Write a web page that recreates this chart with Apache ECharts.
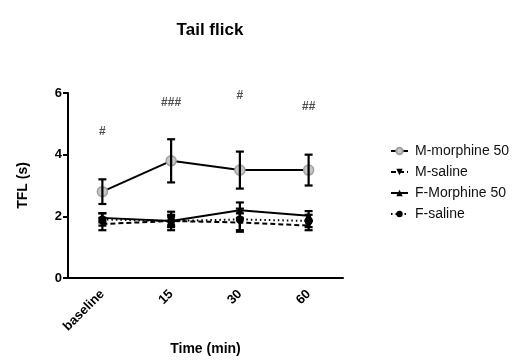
<!DOCTYPE html>
<html>
<head>
<meta charset="utf-8">
<script src="https://cdn.jsdelivr.net/npm/echarts@6/dist/echarts.min.js"></script>
<style>
  html, body { margin: 0; padding: 0; background: #fff; }
  #chart { width: 517px; height: 361px; }
</style>
</head>
<body>
<div id="chart"></div>
<script>
// time points
const timePoints = ["baseline", "15", "30", "60"];

// group means (s) and error (SEM)
const mMorphine = [2.8, 3.8, 3.5, 3.5];
const mMorphineErr = [0.4, 0.7, 0.6, 0.5];
const mSaline = [1.75, 1.85, 1.8, 1.7];
const mSalineErr = [0.2, 0.2, 0.3, 0.15];
const fMorphine = [1.95, 1.85, 2.2, 2.02];
const fMorphineErr = [0.15, 0.3, 0.25, 0.15];
const fSaline = [1.9, 1.85, 1.9, 1.85];
const fSalineErr = [0.2, 0.15, 0.35, 0.2];

// significance marks above each time point
const sigMarks = ["#", "###", "#", "##"];
const sigHeights = [4.75, 5.68, 5.9, 5.56];

const FONT = "Liberation Sans, Arial, sans-serif";
const ch = echarts.init(document.getElementById("chart"));

function errorBars(name, means, errs) {
  return {
    name,
    type: "custom",
    data: means.map((m, i) => [i, m - errs[i], m + errs[i]]),
    encode: { x: 0, y: [1, 2] },
    z: 5,
    renderItem: (params, api) => {
      const lo = api.coord([api.value(0), api.value(1)]);
      const hi = api.coord([api.value(0), api.value(2)]);
      const cap = 4;
      const style = { stroke: "#000", lineWidth: 2.2 };
      return {
        type: "group",
        children: [
          { type: "line", shape: { x1: lo[0], y1: lo[1], x2: hi[0], y2: hi[1] }, style },
          { type: "line", shape: { x1: lo[0] - cap, y1: lo[1], x2: lo[0] + cap, y2: lo[1] }, style },
          { type: "line", shape: { x1: hi[0] - cap, y1: hi[1], x2: hi[0] + cap, y2: hi[1] }, style },
        ],
      };
    },
  };
}

ch.setOption({
  backgroundColor: "#fff",
  animation: false,
  title: {
    text: "Tail flick",
    left: 205,
    top: 17,
    textAlign: "center",
    textStyle: { fontFamily: FONT, fontSize: 17, fontWeight: "bold", color: "#000" },
  },
  legend: {
    orient: "vertical",
    left: 385,
    top: 139,
    itemGap: 7,
    itemWidth: 17,
    itemHeight: 8,
    textStyle: { fontFamily: FONT, fontSize: 14, color: "#111", padding: [0, 0, 0, 2] },
    data: ["M-morphine 50", "M-saline", "F-Morphine 50", "F-saline"],
  },
  grid: { left: 68, right: 174, top: 93, bottom: 82 },
  xAxis: {
    type: "category",
    data: timePoints,
    boundaryGap: true,
    name: "Time (min)",
    nameLocation: "middle",
    nameGap: 64,
    nameTextStyle: { fontFamily: FONT, fontSize: 14, fontWeight: "bold", color: "#000" },
    axisLine: { lineStyle: { color: "#000", width: 2 } },
    axisTick: { alignWithLabel: true, length: 5, lineStyle: { color: "#000", width: 2 } },
    axisLabel: {
      rotate: 45,
      margin: 14,
      fontFamily: FONT,
      fontSize: 13,
      fontWeight: "bold",
      color: "#000",
    },
  },
  yAxis: {
    type: "value",
    min: 0,
    max: 6,
    interval: 2,
    name: "TFL (s)",
    nameLocation: "middle",
    nameGap: 38,
    nameTextStyle: { fontFamily: FONT, fontSize: 14, fontWeight: "bold", color: "#000" },
    axisLine: { show: true, lineStyle: { color: "#000", width: 2 } },
    axisTick: { show: true, length: 5, lineStyle: { color: "#000", width: 2 } },
    axisLabel: { margin: 6, fontFamily: FONT, fontSize: 13, fontWeight: "bold", color: "#000" },
    splitLine: { show: false },
  },
  series: [
    errorBars("M-morphine 50 err", mMorphine, mMorphineErr),
    errorBars("M-saline err", mSaline, mSalineErr),
    errorBars("F-Morphine 50 err", fMorphine, fMorphineErr),
    errorBars("F-saline err", fSaline, fSalineErr),
    {
      name: "M-morphine 50",
      type: "line",
      data: mMorphine,
      symbol: "circle",
      symbolSize: 10,
      lineStyle: { color: "#000", width: 2 },
      itemStyle: { color: "#c8c8c8", borderColor: "#a0a0a0", borderWidth: 1.5 },
      z: 4,
    },
    {
      name: "M-saline",
      type: "line",
      data: mSaline,
      symbol: "triangle",
      symbolRotate: 180,
      symbolSize: 8,
      lineStyle: { color: "#000", width: 2, type: [5, 3] },
      itemStyle: { color: "#000" },
      z: 6,
    },
    {
      name: "F-Morphine 50",
      type: "line",
      data: fMorphine,
      symbol: "triangle",
      symbolSize: 8,
      lineStyle: { color: "#000", width: 2 },
      itemStyle: { color: "#000" },
      z: 6,
    },
    {
      name: "F-saline",
      type: "line",
      data: fSaline,
      symbol: "circle",
      symbolSize: 8,
      lineStyle: { color: "#000", width: 2, type: [1.5, 3] },
      itemStyle: { color: "#000" },
      z: 6,
    },
    {
      name: "sig",
      type: "scatter",
      data: sigHeights.map((h, i) => [i, h]),
      symbolSize: 0,
      silent: true,
      label: {
        show: true,
        position: "inside",
        formatter: (p) => sigMarks[p.dataIndex],
        fontFamily: FONT,
        fontSize: 12,
        fontWeight: "bold",
        color: "#222",
      },
    },
  ],
});
</script>
</body>
</html>
